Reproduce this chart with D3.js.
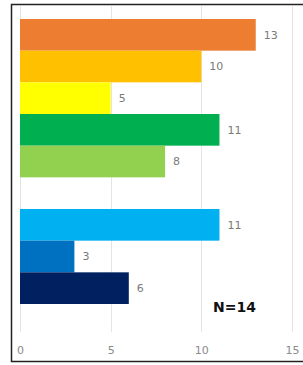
<!DOCTYPE html>
<html>
<head>
<meta charset="utf-8">
<script src="https://cdn.jsdelivr.net/npm/d3@7"></script>
<style>
  body { margin: 0; background: #fff; }
</style>
</head>
<body>
<div id="chart"></div>
<script>
// dati del grafico (dall'alto verso il basso, "" = riga vuota)
const categories = ["a", "b", "c", "d", "e", "", "f", "g", "h"];
const values = [13, 10, 5, 11, 8, null, 11, 3, 6];
const colors = ["#ED7D31", "#FFC000", "#FFFF00", "#00B050", "#92D050", null, "#00B0F0", "#0070C0", "#002060"];
const ticks = [0, 5, 10, 15];
const note = "N=14";

const width = 303;
const height = 365;

const svg = d3.select("#chart")
  .append("svg")
  .attr("width", width)
  .attr("height", height);

// cornice esterna
svg.append("rect")
  .attr("x", 11.5)
  .attr("y", 4.5)
  .attr("width", 320)
  .attr("height", 357)
  .attr("fill", "none")
  .attr("stroke", "#222")
  .attr("stroke-width", 1.5);

const x = d3.scaleLinear().domain([0, 15]).range([20, 292]);
const y = d3.scaleBand().domain(categories.map((c, i) => i)).range([19, 304]);

// griglia verticale
svg.append("g")
  .selectAll("line")
  .data(ticks)
  .enter().append("line")
  .attr("x1", d => Math.round(x(d)) + 0.5)
  .attr("x2", d => Math.round(x(d)) + 0.5)
  .attr("y1", 6)
  .attr("y2", 332)
  .attr("stroke", "#e4e4e4")
  .attr("stroke-width", 1);

// asse x (solo etichette)
const axis = svg.append("g")
  .attr("transform", "translate(0, 340)")
  .call(d3.axisBottom(x).tickValues(ticks).tickSize(0).tickPadding(0));
axis.select(".domain").remove();
axis.selectAll("text")
  .attr("dy", "0.71em")
  .attr("y", 6)
  .attr("fill", "#8a8a8a")
  .style("font-family", "DejaVu Sans, Verdana, sans-serif")
  .style("font-size", "11px");

const rows = values.map((v, i) => ({ i, v, color: colors[i] })).filter(d => d.v != null);

// barre
svg.append("g")
  .selectAll("rect")
  .data(rows)
  .enter().append("rect")
  .attr("x", x(0))
  .attr("y", d => y(d.i))
  .attr("width", d => x(d.v) - x(0))
  .attr("height", y.bandwidth())
  .attr("fill", d => d.color);

// etichette valori
svg.append("g")
  .selectAll("text")
  .data(rows)
  .enter().append("text")
  .attr("x", d => x(d.v) + 8)
  .attr("y", d => y(d.i) + y.bandwidth() / 2)
  .attr("dy", "0.35em")
  .attr("fill", "#7a7a7a")
  .style("font-family", "DejaVu Sans, Verdana, sans-serif")
  .style("font-size", "11px")
  .text(d => d.v);

// nota N
svg.append("text")
  .attr("x", 213)
  .attr("y", 312)
  .attr("fill", "#111")
  .style("font-family", "DejaVu Sans, Verdana, sans-serif")
  .style("font-size", "14px")
  .style("font-weight", "bold")
  .text(note);
</script>
</body>
</html>
